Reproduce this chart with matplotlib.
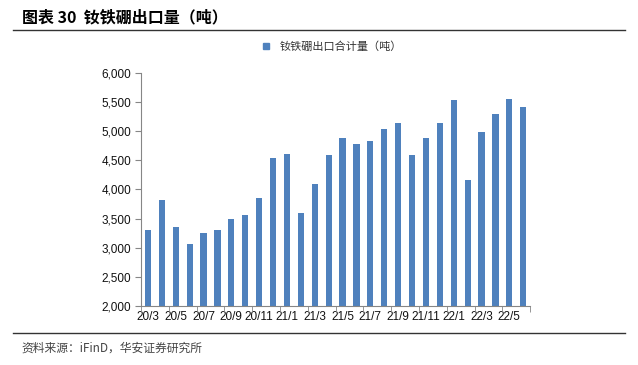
import matplotlib.pyplot as plt
from matplotlib.lines import Line2D

plt.rcParams['font.family'] = ['Noto Sans CJK SC', 'DejaVu Sans']

months = ['20/3', '20/4', '20/5', '20/6', '20/7', '20/8', '20/9', '20/10', '20/11', '20/12',
          '21/1', '21/2', '21/3', '21/4', '21/5', '21/6', '21/7', '21/8', '21/9', '21/10',
          '21/11', '21/12', '22/1', '22/2', '22/3', '22/4', '22/5', '22/6']
exports = [3310, 3815, 3360, 3060, 3255, 3310, 3495, 3560, 3850, 4535,
           4610, 3590, 4090, 4600, 4875, 4775, 4835, 5030, 5135, 4585,
           4880, 5135, 5530, 4165, 4980, 5290, 5545, 5410]
series_name = '钕铁硼出口合计量（吨）'
title = '图表 30  钕铁硼出口量（吨）'
source = '资料来源：iFinD，华安证券研究所'

bar_color = '#4F81BD'
axis_color = '#868686'

fig = plt.figure(figsize=(6.38, 3.65), dpi=100)
ax = fig.add_axes([0.221, 0.162, 0.61, 0.638])

x = list(range(len(months)))
ax.bar(x, exports, width=0.45, color=bar_color, zorder=2)

ax.set_xlim(-0.5, len(months) - 0.5)
ax.set_ylim(2000, 6000)
ax.set_yticks(range(2000, 6001, 500))
ax.set_yticklabels([f'{v:,}' for v in range(2000, 6001, 500)], fontsize=8.5,
                   family=['Liberation Sans', 'DejaVu Sans'], color='#111111')

ax.set_xticks(x[::2])
ax.set_xticklabels(months[::2], fontsize=8.5, family=['Liberation Sans', 'DejaVu Sans'],
                   color='#111111')
ax.tick_params(axis='x', which='major', length=0, pad=4)
ax.set_xticks([i - 0.5 for i in range(0, len(months) + 1, 2)], minor=True)
ax.tick_params(axis='x', which='minor', length=4, color=axis_color, direction='out')
ax.tick_params(axis='y', length=4, color=axis_color, direction='out', pad=3)

for side in ['top', 'right']:
    ax.spines[side].set_visible(False)
for side in ['left', 'bottom']:
    ax.spines[side].set_color(axis_color)

handle = Line2D([], [], marker='s', linestyle='none', color=bar_color, markersize=5)
fig.legend([handle], [series_name], loc='center', bbox_to_anchor=(0.515, 0.872),
           frameon=False, fontsize=8, handletextpad=0.2, labelcolor='#333333')

fig.text(0.034, 0.953, title, fontsize=11.5, fontweight='bold', ha='left', va='center')
fig.add_artist(Line2D([0.02, 0.98], [0.918, 0.918], color='#333333', linewidth=1))
fig.add_artist(Line2D([0.02, 0.98], [0.088, 0.088], color='#333333', linewidth=1))
fig.text(0.034, 0.046, source, fontsize=8.5, ha='left', va='center', color='#444444')

fig.savefig('out.png', dpi=100)
